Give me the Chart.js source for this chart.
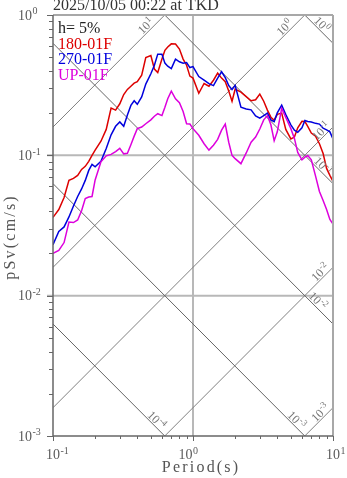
<!DOCTYPE html>
<html>
<head>
<meta charset="utf-8">
<script src="https://cdn.jsdelivr.net/npm/chart.js@4.4.0/dist/chart.umd.min.js"></script>
<style>
  html, body { margin: 0; padding: 0; background: #fff; }
  #wrap { width: 347px; height: 478px; position: relative; }
</style>
</head>
<body>
<div id="wrap"><canvas id="spectre"></canvas></div>
<script>
const TITOL = '2025/10/05 00:22 at TKD';
const AMORTIMENT = 'h= 5%';
const NOMS = ['180-01F', '270-01F', 'UP-01F'];

// period (s)
const periodes = [0.10, 0.11, 0.12, 0.13, 0.14, 0.15, 0.16, 0.17, 0.18, 0.19,
  0.20, 0.22, 0.24, 0.26, 0.28, 0.30, 0.32, 0.34, 0.36, 0.38,
  0.40, 0.43, 0.46, 0.50, 0.53, 0.56, 0.60, 0.63, 0.66, 0.70,
  0.75, 0.80, 0.85, 0.90, 0.95, 1.0, 1.1, 1.2, 1.3, 1.4,
  1.5, 1.6, 1.7, 1.8, 1.9, 2.0, 2.2, 2.4, 2.6, 2.8,
  3.0, 3.2, 3.4, 3.6, 3.8, 4.0, 4.3, 4.6, 5.0, 5.3,
  5.6, 6.0, 6.3, 6.6, 7.0, 7.5, 8.0, 8.5, 9.0, 9.5, 10];

// pSv (cm/s)
const sv180 = [0.0361, 0.0411, 0.0501, 0.0663, 0.0685, 0.0720, 0.0794, 0.0835, 0.0906, 0.100,
  0.109, 0.126, 0.153, 0.217, 0.210, 0.233, 0.271, 0.295, 0.311, 0.327,
  0.335, 0.373, 0.497, 0.514, 0.412, 0.389, 0.485, 0.560, 0.591, 0.623,
  0.621, 0.572, 0.485, 0.439, 0.367, 0.355, 0.277, 0.325, 0.311, 0.343,
  0.385, 0.355, 0.335, 0.287, 0.243, 0.296, 0.282, 0.262, 0.245, 0.249,
  0.273, 0.243, 0.210, 0.187, 0.178, 0.196, 0.200, 0.153, 0.131, 0.135,
  0.157, 0.175, 0.174, 0.161, 0.144, 0.137, 0.121, 0.103, 0.0807, 0.072, 0.0652];

const sv270 = [0.0231, 0.0287, 0.0309, 0.0364, 0.0436, 0.0509, 0.0576, 0.0663, 0.0781, 0.0862,
  0.0828, 0.0906, 0.112, 0.140, 0.161, 0.173, 0.161, 0.194, 0.227, 0.245,
  0.231, 0.261, 0.322, 0.381, 0.439, 0.526, 0.526, 0.454, 0.432, 0.415,
  0.485, 0.464, 0.454, 0.458, 0.422, 0.429, 0.364, 0.343, 0.324, 0.314,
  0.355, 0.394, 0.358, 0.314, 0.294, 0.315, 0.220, 0.214, 0.211, 0.191,
  0.184, 0.192, 0.200, 0.179, 0.174, 0.201, 0.228, 0.195, 0.165, 0.151,
  0.146, 0.157, 0.177, 0.174, 0.173, 0.169, 0.167, 0.156, 0.152, 0.147, 0.131];

const svUP = [0.0200, 0.0210, 0.0239, 0.0335, 0.0332, 0.0346, 0.0403, 0.0493, 0.0505, 0.0509,
  0.0668, 0.0899, 0.0992, 0.1016, 0.1063, 0.1122, 0.1025, 0.1033, 0.119, 0.137,
  0.155, 0.159, 0.168, 0.179, 0.190, 0.198, 0.192, 0.220, 0.253, 0.287,
  0.253, 0.237, 0.205, 0.168, 0.167, 0.155, 0.139, 0.121, 0.109, 0.118,
  0.130, 0.151, 0.167, 0.124, 0.100, 0.0947, 0.0872, 0.104, 0.124, 0.135,
  0.154, 0.179, 0.192, 0.165, 0.127, 0.147, 0.216, 0.186, 0.155, 0.132,
  0.105, 0.0929, 0.0971, 0.0997, 0.093, 0.0714, 0.0553, 0.0477, 0.0411, 0.0349, 0.0324];

const ticksX = [0.1, 1, 10];
const ticksY = [0.001, 0.01, 0.1, 1];

// tripartite lines: displacement (cm) and acceleration (cm/s2)
const nivellsDesp = [1e-4, 1e-3, 1e-2, 1e-1, 1];
const nivellsAcc = [1e-3, 1e-2, 1e-1, 1, 10];
// period where each line label sits
const etiquetaDespT = [0.55, 5.5, 7.8, 8.5, 8.35];
const etiquetaAccT = [8.1, 8.1, 8.2, 4.5, 0.46];

const COLORS = ['#dd0000', '#0000dd', '#dd00dd'];
const SERIF = '"Liberation Serif", "Times New Roman", serif';
const DOS_PI = 2 * Math.PI;

const punts = (xs, ys) => xs.map((x, i) => ({ x, y: ys[i] }));
const exponent = (v) => String(Math.round(Math.log10(v)));

function dibuixaPotencia(ctx, exp, left, baseline, mida) {
  ctx.textAlign = 'left';
  ctx.textBaseline = 'alphabetic';
  ctx.font = `${mida}px ${SERIF}`;
  ctx.fillText('10', left, baseline);
  const wb = ctx.measureText('10').width;
  ctx.font = `${Math.round(mida * 0.72)}px ${SERIF}`;
  ctx.fillText(exp, left + wb + 0.5, baseline - mida * 0.38);
}

function ampladaPotencia(ctx, exp, mida) {
  ctx.font = `${mida}px ${SERIF}`;
  const wb = ctx.measureText('10').width;
  ctx.font = `${Math.round(mida * 0.72)}px ${SERIF}`;
  return { wb, total: wb + 0.5 + ctx.measureText(exp).width };
}

function textEspaiat(ctx, text, cx, baseline, espai) {
  const lletres = [...text];
  const amples = lletres.map((ch) => ctx.measureText(ch).width);
  const total = amples.reduce((a, b) => a + b, 0) + espai * (lletres.length - 1);
  let x = cx - total / 2;
  ctx.textAlign = 'left';
  lletres.forEach((ch, i) => {
    ctx.fillText(ch, x, baseline);
    x += amples[i] + espai;
  });
}

function linia(ctx, x1, y1, x2, y2) {
  ctx.beginPath();
  ctx.moveTo(x1, y1);
  ctx.lineTo(x2, y2);
  ctx.stroke();
}

const tripartit = {
  id: 'tripartit',
  beforeDatasetsDraw(chart) {
    const { ctx, chartArea: a, scales: { x, y } } = chart;
    ctx.save();
    ctx.strokeStyle = '#b8b8b8';
    ctx.lineWidth = 2;
    ticksX.slice(1, -1).forEach((v) => {
      const px = x.getPixelForValue(v);
      linia(ctx, px, a.top, px, a.bottom);
    });
    ticksY.slice(1, -1).forEach((v) => {
      const py = y.getPixelForValue(v);
      linia(ctx, a.left - 6, py, a.right, py);
    });
    ctx.restore();
  },
  afterDatasetsDraw(chart) {
    const { ctx, scales: { x, y } } = chart;
    ctx.save();
    ctx.fillStyle = '#777';
    const etiqueta = (nivell, T, pSv, angle) => {
      const px = x.getPixelForValue(T);
      const py = y.getPixelForValue(pSv) - 8;
      const exp = exponent(nivell);
      const w = ampladaPotencia(ctx, exp, 12);
      ctx.save();
      ctx.translate(px, py);
      ctx.rotate(angle);
      dibuixaPotencia(ctx, exp, -w.total / 2, 4, 12);
      ctx.restore();
    };
    nivellsDesp.forEach((d, i) => {
      const T = etiquetaDespT[i];
      etiqueta(d, T, DOS_PI * d / T, Math.PI / 4);
    });
    nivellsAcc.forEach((acc, i) => {
      const T = etiquetaAccT[i];
      etiqueta(acc, T, acc * T / DOS_PI, -Math.PI / 4);
    });

    // legend
    ctx.font = `16px ${SERIF}`;
    ctx.textAlign = 'left';
    ctx.textBaseline = 'alphabetic';
    ctx.fillStyle = '#222';
    ctx.fillText(AMORTIMENT, 58, 33);
    NOMS.forEach((nom, i) => {
      ctx.fillStyle = COLORS[i];
      ctx.fillText(nom, 58, 48.5 + i * 15.5);
    });
    ctx.restore();
  },
  afterDraw(chart) {
    const { ctx, chartArea: a, scales: { x, y } } = chart;
    ctx.save();

    // frame
    ctx.lineWidth = 2;
    ctx.strokeStyle = '#a8a8a8';
    linia(ctx, a.left, a.top, a.right, a.top);
    linia(ctx, a.right, a.top, a.right, a.bottom);
    ctx.lineWidth = 1.5;
    ctx.strokeStyle = '#666';
    linia(ctx, a.left, a.top, a.left, a.bottom);
    linia(ctx, a.left, a.bottom, a.right, a.bottom);

    // ticks
    ctx.lineWidth = 1;
    for (let d = -1; d < 1; d++) {
      for (let m = 1; m <= 10; m++) {
        const v = m * Math.pow(10, d);
        const px = Math.round(x.getPixelForValue(v)) + 0.5;
        linia(ctx, px, a.bottom, px, a.bottom + (m === 1 || m === 10 ? 5 : 3));
      }
    }
    for (let d = -3; d < 0; d++) {
      for (let m = 1; m <= 10; m++) {
        const v = m * Math.pow(10, d);
        const py = Math.round(y.getPixelForValue(v)) + 0.5;
        linia(ctx, a.left, py, a.left - (m === 1 || m === 10 ? 6 : 4), py);
      }
    }

    // tick labels
    ctx.fillStyle = '#5a5a5a';
    const desplacX = [0, -7.5, 0];
    ticksX.forEach((v, i) => {
      const w = ampladaPotencia(ctx, exponent(v), 14);
      const px = x.getPixelForValue(v) + desplacX[i];
      dibuixaPotencia(ctx, exponent(v), px - w.wb / 2, 459, 14);
    });
    ticksY.forEach((v) => {
      const w = ampladaPotencia(ctx, exponent(v), 14);
      const py = y.getPixelForValue(v);
      dibuixaPotencia(ctx, exponent(v), 32 - w.wb, py + 4.5, 14);
    });

    // axis titles
    ctx.font = `16px ${SERIF}`;
    ctx.textBaseline = 'alphabetic';
    ctx.fillStyle = '#555';
    textEspaiat(ctx, 'Period(s)', 200, 472, 2.2);
    ctx.save();
    ctx.translate(15, 238);
    ctx.rotate(-Math.PI / 2);
    textEspaiat(ctx, 'pSv(cm/s)', 0, 0, 2.2);
    ctx.restore();

    // title
    ctx.fillStyle = '#333';
    ctx.textAlign = 'left';
    ctx.fillText(TITOL, 53, 10);
    ctx.restore();
  }
};

const liniesDesp = nivellsDesp.map((d) => ({
  data: [0.1, 10].map((T) => ({ x: T, y: DOS_PI * d / T })),
  borderColor: '#666',
  borderWidth: 1,
  pointRadius: 0
}));
const liniesAcc = nivellsAcc.map((acc) => ({
  data: [0.1, 10].map((T) => ({ x: T, y: acc * T / DOS_PI })),
  borderColor: '#808080',
  borderWidth: 1,
  pointRadius: 0
}));

const corbes = [svUP, sv270, sv180].map((serie, i) => ({
  label: NOMS[2 - i],
  data: punts(periodes, serie),
  borderColor: COLORS[2 - i],
  borderWidth: 1.5,
  pointRadius: 0,
  tension: 0
}));

new Chart(document.getElementById('spectre').getContext('2d'), {
  type: 'line',
  data: { datasets: [...corbes, ...liniesDesp, ...liniesAcc] },
  options: {
    responsive: true,
    maintainAspectRatio: false,
    animation: false,
    events: [],
    layout: { padding: { left: 53, right: 14, top: 15, bottom: 42 } },
    plugins: { legend: { display: false }, tooltip: { enabled: false } },
    scales: {
      x: { type: 'logarithmic', min: 0.1, max: 10, display: false },
      y: { type: 'logarithmic', min: 0.001, max: 1, display: false }
    }
  },
  plugins: [tripartit]
});
</script>
</body>
</html>
